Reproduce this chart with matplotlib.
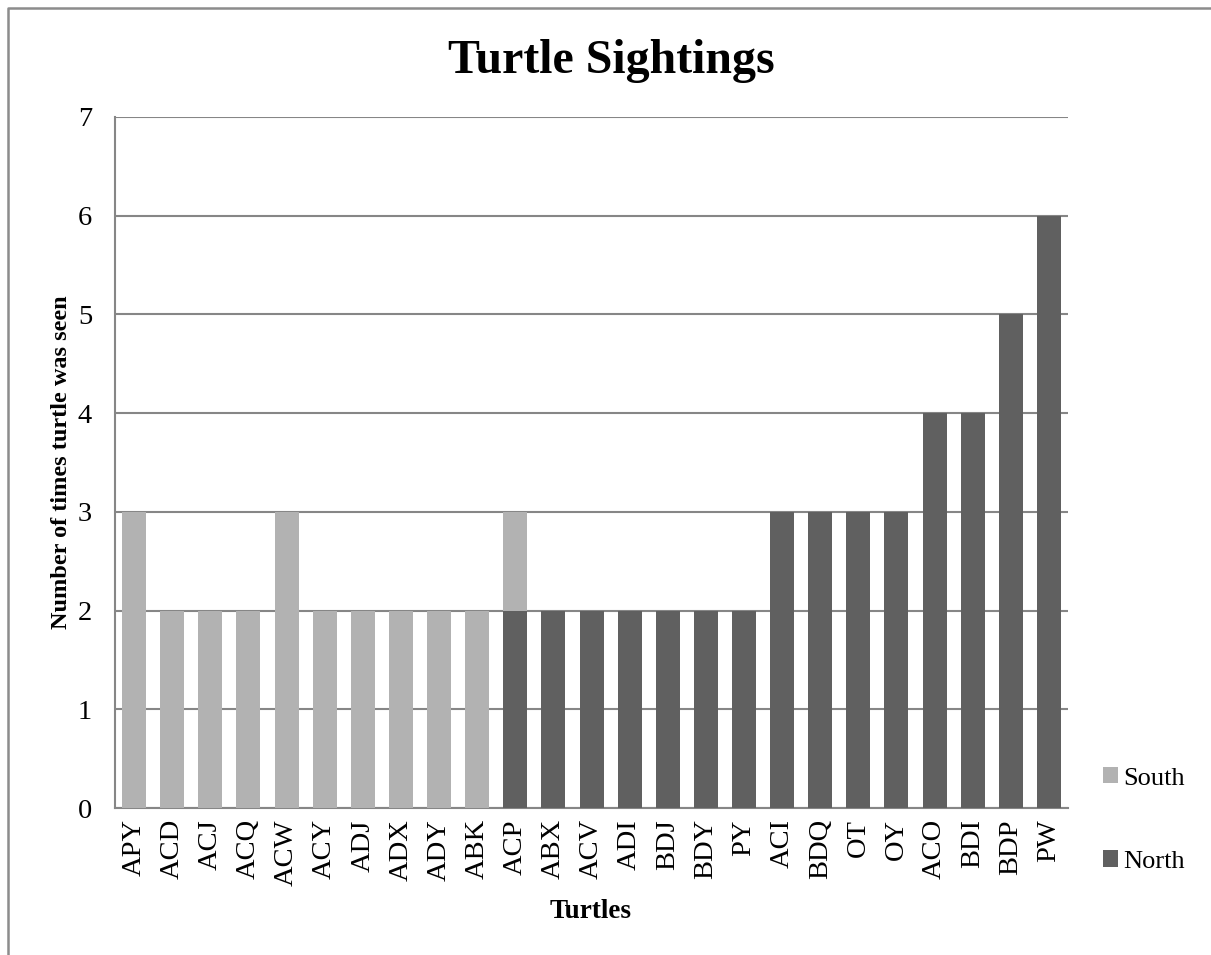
import matplotlib
matplotlib.use("Agg")
import matplotlib.pyplot as plt
from matplotlib.lines import Line2D
import numpy as np

turtles = ["APY", "ACD", "ACJ", "ACQ", "ACW", "ACY", "ADJ", "ADX", "ADY", "ABK",
           "ACP", "ABX", "ACV", "ADI", "BDJ", "BDY", "PY", "ACI", "BDQ", "OT",
           "OY", "ACO", "BDI", "BDP", "PW"]
north = [0, 0, 0, 0, 0, 0, 0, 0, 0, 0,
         2, 2, 2, 2, 2, 2, 2, 3, 3, 3,
         3, 4, 4, 5, 6]
south = [3, 2, 2, 2, 3, 2, 2, 2, 2, 2,
         1, 0, 0, 0, 0, 0, 0, 0, 0, 0,
         0, 0, 0, 0, 0]
y_ticks = [0, 1, 2, 3, 4, 5, 6, 7]

plt.rcParams["font.family"] = ["Liberation Serif", "DejaVu Serif"]

W, H = 1211, 955
fig = plt.figure(figsize=(W / 100, H / 100), dpi=100)
ax = fig.add_axes([0.095, 0.1539, 0.7869, 0.7236])

x = np.arange(len(turtles))
north_color = "#606060"
south_color = "#B2B2B2"
grid_color = "#868686"

b_north = ax.bar(x, north, width=0.63, color=north_color, edgecolor="none",
                 label="North", zorder=3)
b_south = ax.bar(x, south, width=0.63, bottom=north, color=south_color,
                 edgecolor="none", label="South", zorder=3)

ax.set_xlim(-0.5, len(turtles) - 0.5)
ax.set_ylim(0, 7)
ax.set_yticks(y_ticks)
ax.yaxis.grid(True, color=grid_color, linewidth=1.5, zorder=1)
ax.set_axisbelow(True)

ax.set_xticks(x)
ax.set_xticklabels(turtles, rotation=90, fontsize=20.5)
ax.tick_params(axis="y", labelsize=20.5, length=0, pad=16.5)
ax.tick_params(axis="x", length=0, pad=8)

for side in ("top", "right"):
    ax.spines[side].set_visible(False)
for side in ("left", "bottom"):
    ax.spines[side].set_color(grid_color)
    ax.spines[side].set_linewidth(1.5)

ax.set_ylabel("Number of times turtle was seen", fontsize=17.5,
              fontweight="bold", labelpad=4)
fig.text(591 / W, 1 - 918 / H, "Turtles", ha="center", va="baseline",
         fontsize=19.5, fontweight="bold")
fig.text(611 / W, 1 - 73 / H, "Turtle Sightings", ha="center",
         va="baseline", fontsize=34.5, fontweight="bold")

leg = fig.legend(handles=[b_south, b_north], labels=["South", "North"],
                 loc="center left", frameon=False, fontsize=19,
                 handlelength=0.57, handleheight=0.57, handletextpad=0.2,
                 labelspacing=2.3, borderpad=0, borderaxespad=0)
leg.set_bbox_to_anchor((1103 / W, 1 - 820 / H), transform=fig.transFigure)

# chart-area frame: left and top edges
frame_x = [7.5 / W, 7.5 / W, 1.0]
frame_y = [0.0, 1 - 8.5 / H, 1 - 8.5 / H]
fig.add_artist(Line2D(frame_x, frame_y, transform=fig.transFigure,
                      color="#8c8c8c", linewidth=1.8))

fig.savefig("out.png", dpi=100)
